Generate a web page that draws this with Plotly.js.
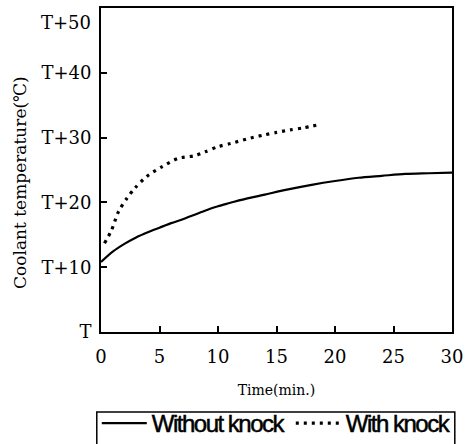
<!DOCTYPE html>
<html>
<head>
<meta charset="utf-8">
<script src="https://cdn.plot.ly/plotly-3.0.1.min.js"></script>
<style>html,body{margin:0;padding:0;background:#fff;}#chart{width:474px;height:444px;}
.legendtext{letter-spacing:-1.5px; stroke:#000; stroke-width:0.5px;}
</style>
</head>
<body>
<div id="chart"></div>
<script>
var timeNoKnock = [0, 1, 2, 3, 4, 5, 6, 7, 8, 9, 10, 11, 12, 14, 16, 18, 20, 22, 24, 26, 28, 30];
var tempNoKnock = [10.8, 12.4, 13.6, 14.6, 15.4, 16.1, 16.8, 17.4, 18.1, 18.8, 19.4, 19.9, 20.4, 21.2, 22.0, 22.7, 23.3, 23.8, 24.1, 24.4, 24.5, 24.6];
var timeKnock = [0.3, 0.9, 1.5, 2.2, 2.9, 3.9, 5.2, 6.6, 8.0, 8.9, 10.0, 11.1, 12.5, 13.9, 15, 16.2, 17.3, 18.4];
var tempKnock = [13.7, 15.7, 18.6, 20.6, 22.2, 24.0, 25.5, 26.8, 27.2, 27.8, 28.6, 29.1, 29.8, 30.4, 30.8, 31.2, 31.5, 31.9];
var yTickVals = [0, 10, 20, 30, 40];
var yTickText = ['T', 'T+10', 'T+20', 'T+30', 'T+40'];
var xTickVals = [0, 5, 10, 15, 20, 25, 30];

var serif = 'DejaVu Serif, serif';
var traces = [
  {x: timeNoKnock, y: tempNoKnock, mode: 'lines', name: 'Without knock', legendwidth: 134,
   line: {color: '#000', width: 2.2, shape: 'spline', smoothing: 0.8}},
  {x: timeKnock, y: tempKnock, mode: 'lines', name: 'With knock', legendwidth: 104,
   line: {color: '#000', width: 3.2, dash: '3px,5px', shape: 'spline', smoothing: 0.8}}
];

var layout = {
  width: 474, height: 444,
  margin: {l: 101, r: 22, t: 8, b: 112, autoexpand: false},
  paper_bgcolor: '#fff', plot_bgcolor: '#fff',
  showlegend: true,
  legend: {orientation: 'h', x: -0.012, xanchor: 'left', y: -0.213, yanchor: 'top',
    borderwidth: 0, bgcolor: 'rgba(0,0,0,0)',
    font: {family: 'Liberation Sans, Arial, sans-serif', size: 24, color: '#000'},
    itemwidth: 45, entrywidthmode: 'pixels'},
  shapes: [
    {type: 'rect', xref: 'paper', yref: 'paper', x0: -0.012, x1: 1.008, y0: -0.247, y1: -0.37,
     line: {color: '#000', width: 1.5}, fillcolor: 'rgba(0,0,0,0)', layer: 'above'}
  ],
  xaxis: {range: [0, 30], tickvals: xTickVals, ticks: 'inside', ticklen: 6, tickwidth: 2, tickcolor: '#000',
    showline: true, linecolor: '#000', linewidth: 2, mirror: true, showgrid: false, zeroline: false,
    ticklabelstandoff: 7,
    tickfont: {family: serif, size: 18, color: '#000'},
    title: {text: 'Time(min.)', font: {family: serif, size: 14, color: '#000'}, standoff: 20}},
  yaxis: {range: [0, 50], tickvals: yTickVals, ticktext: yTickText, ticks: 'inside', ticklen: 6, tickwidth: 2, tickcolor: '#000',
    showline: true, linecolor: '#000', linewidth: 2, mirror: true, showgrid: false, zeroline: false,
    ticklabelstandoff: 4,
    tickfont: {family: serif, size: 18, color: '#000'}},
  annotations: [
    {text: 'T+50', xref: 'paper', yref: 'y', x: 0, y: 47.8, xanchor: 'right', yanchor: 'middle', xshift: -8,
     showarrow: false, font: {family: serif, size: 18, color: '#000'}},
    {text: 'Coolant temperature(℃)', xref: 'paper', yref: 'paper', x: -0.2308, y: 0.463,
     xanchor: 'center', yanchor: 'middle', textangle: -90, showarrow: false,
     font: {family: serif, size: 17, color: '#000'}}
  ]
};

Plotly.newPlot('chart', traces, layout, {displayModeBar: false, staticPlot: true});
</script>
</body>
</html>
